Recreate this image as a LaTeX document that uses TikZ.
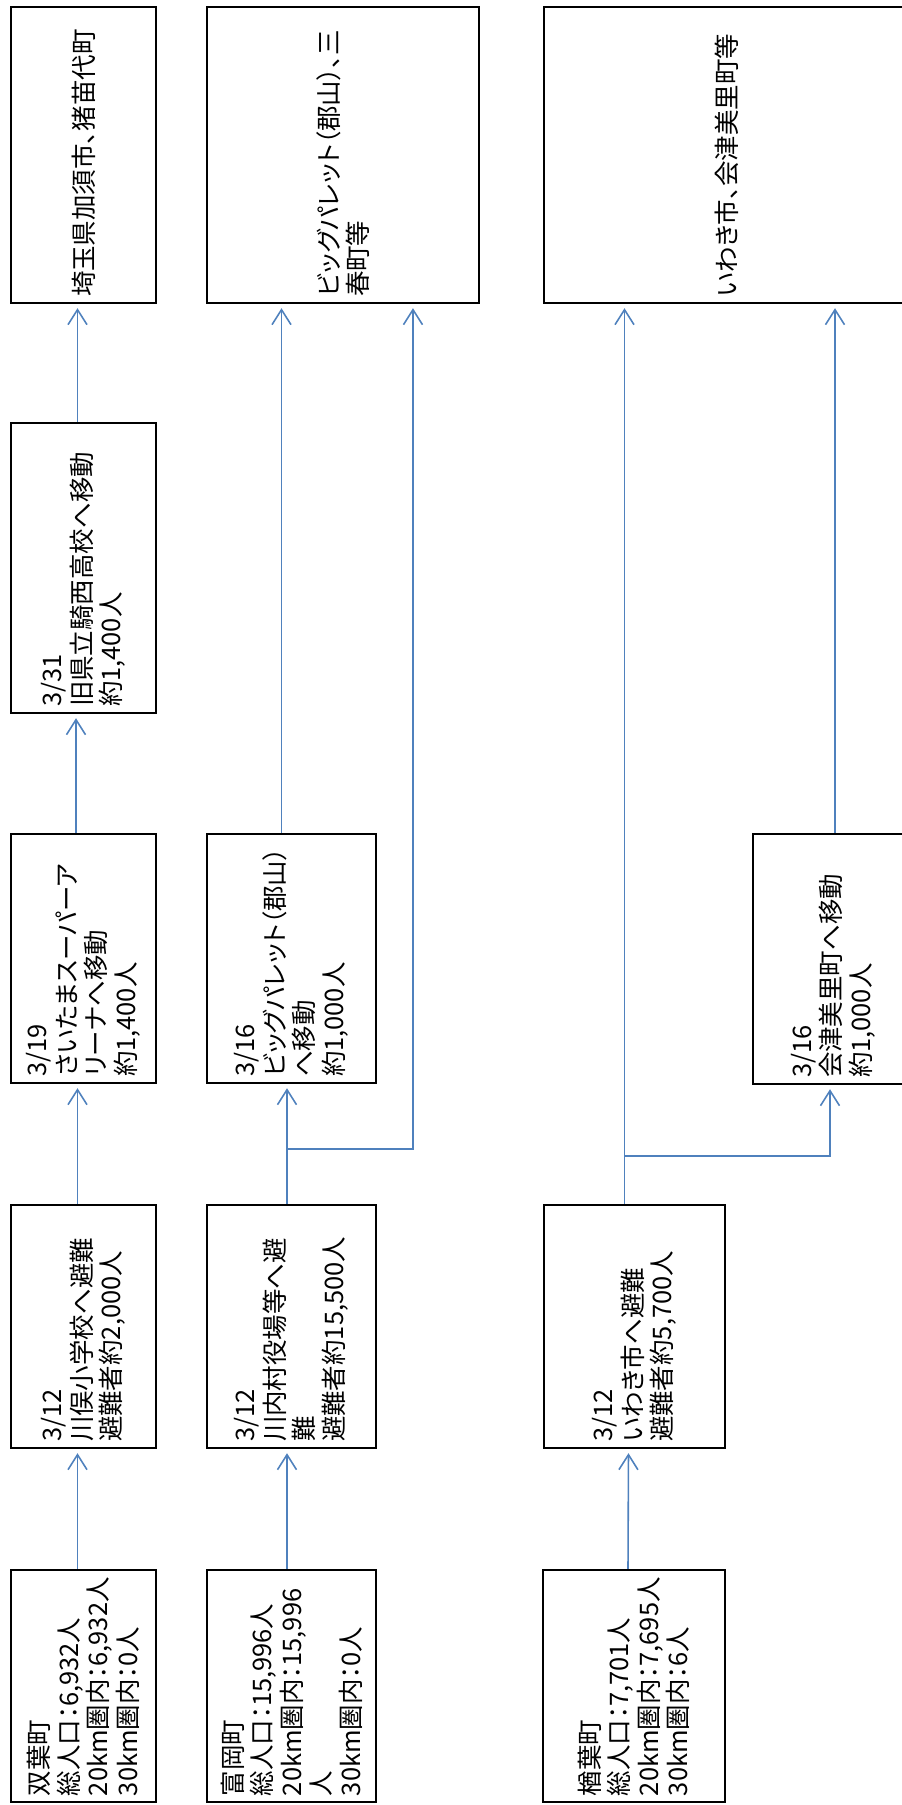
\documentclass[tikz,border=0pt]{standalone}
\usepackage{fontspec}
\setmainfont[RawFeature=+palt]{Noto Sans CJK JP}
\usetikzlibrary{arrows.meta,calc}
\definecolor{flowblue}{RGB}{79,129,189}
\tikzset{every picture/.style={
  >={Straight Barb[length=0.3cm,width=0.38cm]}   % Open arrow heads.
  }
}
% Text set sideways, read from bottom to top.
\newcommand{\sidetext}[2]{\rotatebox{90}{\parbox{#1}{\raggedright #2}}}

\begin{document}
\begin{tikzpicture}[x=0.02cm,y=-0.02cm,
    box/.style={
      draw,
      line width=1.4pt,
      inner sep=0pt,
      font=\fontsize{14.5pt}{16.8pt}\selectfont
    },
    flow/.style={->,draw=flowblue,line width=0.9pt,shorten >=0.08cm}]

    \useasboundingbox (0,0) rectangle (902,1805);

    % The three towns.
    \node[box,minimum width=2.9cm,minimum height=4.64cm] (futaba) at (83.5,1686)
      {\sidetext{4.4cm}{双葉町\\総人口：6,932人\\20km圏内：6,932人\\30km圏内：0人}};
    \node[box,minimum width=3.38cm,minimum height=4.64cm] (tomioka) at (291.5,1686)
      {\sidetext{4.4cm}{富岡町\\総人口：15,996人\\20km圏内：15,996\\人\\30km圏内：0人}};
    \node[box,minimum width=3.64cm,minimum height=4.64cm] (naraha) at (634,1686)
      {\sidetext{4.4cm}{楢葉町\\総人口：7,701人\\20km圏内：7,695人\\30km圏内：6人}};

    % First evacuation, 3/12.
    \node[box,minimum width=2.9cm,minimum height=4.86cm] (kawamata) at (83.5,1326.5)
      {\sidetext{4.62cm}{3/12\\川俣小学校へ避難\\避難者約2,000人}};
    \node[box,minimum width=3.38cm,minimum height=4.86cm] (kawauchi) at (291.5,1326.5)
      {\sidetext{4.62cm}{3/12\\川内村役場等へ避\\難\\避難者約15,500人}};
    \node[box,minimum width=3.62cm,minimum height=4.86cm] (iwaki) at (634.5,1326.5)
      {\sidetext{4.62cm}{3/12\\いわき市へ避難\\避難者約5,700人}};

    % Later moves.
    \node[box,minimum width=2.9cm,minimum height=4.98cm] (saitama) at (83.5,958.5)
      {\sidetext{4.74cm}{3/19\\さいたまスーパーア\\リーナへ移動\\約1,400人}};
    \node[box,minimum width=3.38cm,minimum height=4.98cm] (bigpal) at (291.5,958.5)
      {\sidetext{4.74cm}{3/16\\ビッグパレット（郡山）\\へ移動\\約1,000人}};
    \node[box,minimum width=3.2cm,minimum height=5cm] (misato) at (833,959)
      {\sidetext{4.76cm}{3/16\\会津美里町へ移動\\約1,000人}};
    \node[box,minimum width=2.9cm,minimum height=5.8cm] (kisai) at (83.5,568)
      {\sidetext{5.56cm}{3/31\\旧県立騎西高校へ移動\\約1,400人}};

    % Where the people stay now.
    \node[box,minimum width=2.9cm,minimum height=5.92cm] (kazo) at (83.5,155)
      {\sidetext{5.68cm}{埼玉県加須市、猪苗代町}};
    \node[box,minimum width=5.44cm,minimum height=5.92cm] (miharu) at (343,155)
      {\sidetext{5.68cm}{ビッグパレット（郡山）、三\\春町等}};
    \node[box,minimum width=7.32cm,minimum height=5.92cm] (aizu) at (727,155)
      {\sidetext{5.68cm}{いわき市、会津美里町等}};

    % Futaba.
    \draw[flow] ([xshift=-0.12cm]futaba.north) -- ([xshift=-0.12cm]kawamata.south);
    \draw[flow] ([xshift=-0.12cm]kawamata.north) -- ([xshift=-0.12cm]saitama.south);
    \draw[flow] ([xshift=-0.15cm]saitama.north) -- ([xshift=-0.15cm]kisai.south);
    \draw[flow] ([xshift=-0.12cm]kisai.north) -- ([xshift=-0.12cm]kazo.south);

    % Tomioka.
    \draw[flow] ([xshift=-0.09cm]tomioka.north) -- ([xshift=-0.09cm]kawauchi.south);
    \coordinate (tfork) at ([xshift=-0.09cm,yshift=1.1cm]kawauchi.north);
    \draw[flow] ([xshift=-0.09cm]kawauchi.north) -- ([xshift=-0.09cm]bigpal.south);
    \draw[flow] (tfork) -| ([xshift=1.4cm]miharu.south);
    \draw[flow] ([xshift=-0.2cm]bigpal.north) -- ([xshift=-0.2cm]bigpal.north |- miharu.south);

    % Naraha.
    \draw[flow] ([xshift=-0.12cm]naraha.north) -- ([xshift=-0.12cm]iwaki.south);
    \coordinate (nfork) at ([xshift=-0.2cm,yshift=0.96cm]iwaki.north);
    \draw[flow] ([xshift=-0.2cm]iwaki.north) -- ([xshift=-0.2cm]iwaki.north |- aizu.south);
    \draw[flow] (nfork) -| ([xshift=-0.06cm]misato.south);
    \draw[flow] ([xshift=0.04cm]misato.north) -- ([xshift=0.04cm]misato.north |- aizu.south);
  \end{tikzpicture}
\end{document}
